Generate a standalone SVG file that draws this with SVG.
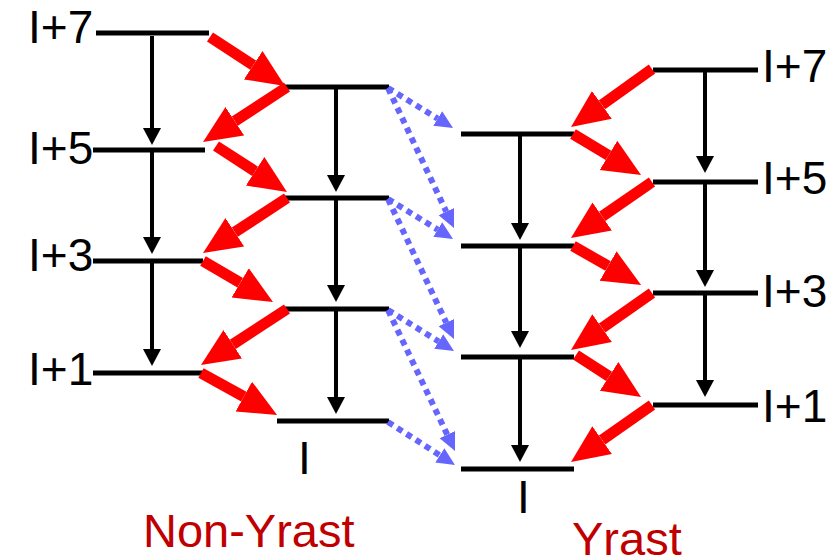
<svg xmlns="http://www.w3.org/2000/svg" width="838" height="559" viewBox="0 0 838 559">
<style>
.lvl{stroke:#000;stroke-width:5;fill:none}
.lbl{font-family:"Liberation Sans",Arial,sans-serif;font-size:46px;fill:#000}
.title{font-family:"Liberation Sans",Arial,sans-serif;font-size:47px;fill:#C00000}
.blk{stroke:#000;stroke-width:4;fill:none;marker-end:url(#hb)}
.red{stroke:#FF0000;stroke-width:11;fill:none;marker-end:url(#hr)}
.blu{stroke:#6666FF;stroke-width:6;stroke-dasharray:6 5;fill:none;marker-end:url(#hu)}
</style>
<defs>
<marker id="hb" markerUnits="userSpaceOnUse" viewBox="0 -10 18 20" refX="0" refY="0" markerWidth="18" markerHeight="20" orient="auto"><path d="M0,-9 L17,0 L0,9 z" fill="#000"/></marker>
<marker id="hr" markerUnits="userSpaceOnUse" viewBox="0 -18 39 36" refX="0" refY="0" markerWidth="39" markerHeight="36" orient="auto"><path d="M0,-17 L38,0 L0,17 z" fill="#FF0000"/></marker>
<marker id="hu" markerUnits="userSpaceOnUse" viewBox="0 -9 19 18" refX="0" refY="0" markerWidth="19" markerHeight="18" orient="auto"><path d="M0,-8.5 L18,0 L0,8.5 z" fill="#6666FF"/></marker>
</defs>
<rect width="838" height="559" fill="#fff"/>

<g id="nonyrast-I7"><line class="lvl" x1="96" y1="33" x2="209" y2="33"/><text class="lbl" x="28" y="43">I+7</text></g>
<g id="nonyrast-I5"><line class="lvl" x1="93" y1="150" x2="205" y2="150"/><text class="lbl" x="28" y="164">I+5</text></g>
<g id="nonyrast-I3"><line class="lvl" x1="93" y1="261" x2="203" y2="261"/><text class="lbl" x="28" y="271">I+3</text></g>
<g id="nonyrast-I1"><line class="lvl" x1="93" y1="373" x2="203" y2="373"/><text class="lbl" x="28" y="385">I+1</text></g>

<g id="nonyrast-I6"><line class="lvl" x1="285" y1="87" x2="389" y2="87"/></g>
<g id="nonyrast-I4"><line class="lvl" x1="285" y1="198" x2="389" y2="198"/></g>
<g id="nonyrast-I2"><line class="lvl" x1="285" y1="309" x2="389" y2="309"/></g>
<g id="nonyrast-I0"><line class="lvl" x1="277" y1="421" x2="389" y2="421"/><text class="lbl" x="298" y="474">I</text></g>

<g id="yrast-I6"><line class="lvl" x1="461" y1="134" x2="574" y2="134"/></g>
<g id="yrast-I4"><line class="lvl" x1="461" y1="246" x2="574" y2="246"/></g>
<g id="yrast-I2"><line class="lvl" x1="461" y1="357" x2="574" y2="357"/></g>
<g id="yrast-I0"><line class="lvl" x1="461" y1="469" x2="574" y2="469"/><text class="lbl" x="517" y="513">I</text></g>

<g id="yrast-I7"><line class="lvl" x1="653" y1="70" x2="758" y2="70"/><text class="lbl" x="762" y="82">I+7</text></g>
<g id="yrast-I5"><line class="lvl" x1="653" y1="182" x2="758" y2="182"/><text class="lbl" x="762" y="194">I+5</text></g>
<g id="yrast-I3"><line class="lvl" x1="653" y1="293" x2="758" y2="293"/><text class="lbl" x="762" y="307">I+3</text></g>
<g id="yrast-I1"><line class="lvl" x1="653" y1="405" x2="758" y2="405"/><text class="lbl" x="762" y="422">I+1</text></g>

<g id="title-nonyrast"><text class="title" x="143" y="547">Non-Yrast</text></g>
<g id="title-yrast"><text class="title" x="572" y="555">Yrast</text></g>

<g id="connectors">
<line class="blk" x1="152" y1="36" x2="152" y2="128"/>
<line class="blk" x1="152" y1="152" x2="152" y2="237"/>
<line class="blk" x1="152" y1="263" x2="152" y2="349"/>
<line class="blk" x1="336" y1="89" x2="336" y2="175"/>
<line class="blk" x1="336" y1="200" x2="336" y2="285"/>
<line class="blk" x1="336" y1="311" x2="336" y2="397"/>
<line class="blk" x1="520" y1="136" x2="520" y2="223"/>
<line class="blk" x1="520" y1="248" x2="520" y2="331"/>
<line class="blk" x1="520" y1="359" x2="520" y2="445"/>
<line class="blk" x1="705" y1="72" x2="705" y2="156"/>
<line class="blk" x1="705" y1="184" x2="705" y2="270"/>
<line class="blk" x1="705" y1="295" x2="705" y2="380"/>

<line class="red" x1="210" y1="37" x2="253.2" y2="65.2"/>
<line class="red" x1="287" y1="87" x2="234.8" y2="121.2"/>
<line class="red" x1="216" y1="146" x2="255.1" y2="171.3"/>
<line class="red" x1="287" y1="198" x2="234.8" y2="232.2"/>
<line class="red" x1="203" y1="261" x2="240.2" y2="282.8"/>
<line class="red" x1="287" y1="309" x2="232.8" y2="344.3"/>
<line class="red" x1="201" y1="373" x2="243.8" y2="396.6"/>

<line class="red" x1="652" y1="69" x2="601.9" y2="104.9"/>
<line class="red" x1="573" y1="134" x2="608.5" y2="155.4"/>
<line class="red" x1="652" y1="182" x2="602.2" y2="216.4"/>
<line class="red" x1="573" y1="246" x2="608.1" y2="266.1"/>
<line class="red" x1="652" y1="293" x2="602.1" y2="328.1"/>
<line class="red" x1="576" y1="355" x2="609.1" y2="376.4"/>
<line class="red" x1="652" y1="405" x2="602.1" y2="440.1"/>

<line class="blu" x1="388" y1="88" x2="437.7" y2="118.6"/>
<line class="blu" x1="388" y1="88" x2="446.3" y2="211.7"/>
<line class="blu" x1="388" y1="199" x2="437.7" y2="229.6"/>
<line class="blu" x1="388" y1="199" x2="446.3" y2="322.7"/>
<line class="blu" x1="388" y1="310" x2="438.7" y2="341.5"/>
<line class="blu" x1="388" y1="310" x2="447.3" y2="434.7"/>
<line class="blu" x1="388" y1="422" x2="439.8" y2="455.3"/>
</g>
</svg>
